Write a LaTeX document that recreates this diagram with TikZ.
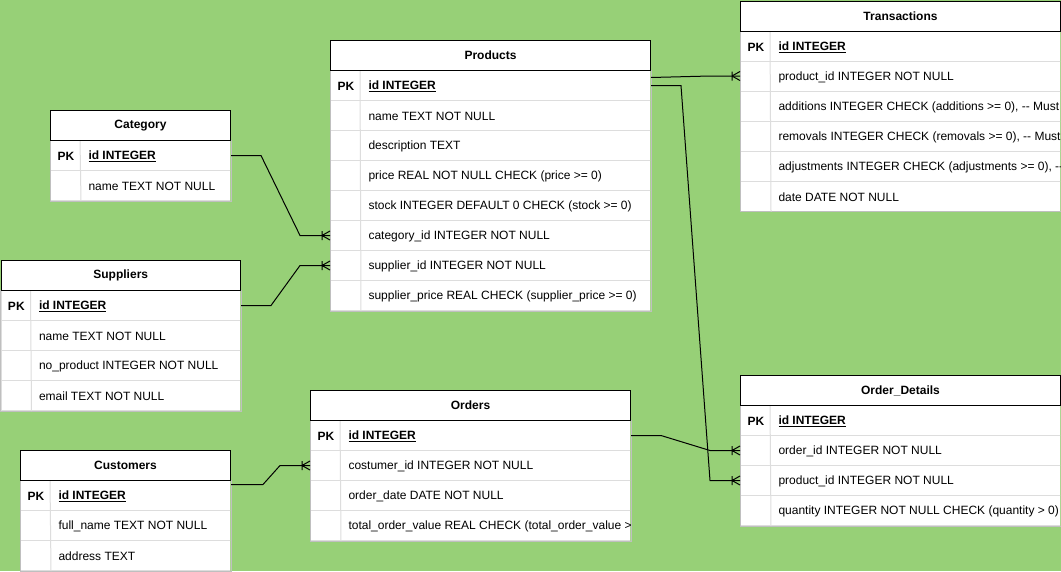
\documentclass[12pt,tikz,border=0pt]{standalone}
\usepackage{fontspec}
\setmainfont{Liberation Sans}
\usetikzlibrary{calc}

\definecolor{bggreen}{HTML}{97D077}
\definecolor{rowline}{HTML}{DDDDDD}
\definecolor{bodyline}{HTML}{BFBFBF}

\tikzset{
  tbltitle/.style={draw=black, fill=white, anchor=north west, minimum height=30pt, inner sep=0pt, font=\bfseries},
  tblrow/.style={draw=rowline, fill=white, anchor=north west, minimum height=30pt, inner sep=0pt},
  rowtext/.style={anchor=west, inner sep=0pt, yshift=-1pt},
  link/.style={draw=black, line width=1pt},
  crowfoot/.pic={\draw[line width=1pt] (-8,0) -- (0,-4.5) (-8,0) -- (0,4.5) (-8,-4.5) -- (-8,4.5);}
}

% #1 name, #2 left, #3 top, #4 width, #5 title, #6 rows after the id row
\newcommand{\ertable}[6]{%
  \begin{scope}
    \clip (#2,#3) rectangle ++(#4,600);
    \node[tblrow, minimum width=#4pt] (#1-1) at (#2,#3+30) {};
    \node[rowtext, font=\bfseries] at ($(#1-1.west)+(7,0)$) {PK};
    \node[rowtext, font=\bfseries] at ($(#1-1.west)+(38,0)$) {\underline{id INTEGER}};
    \foreach \txt [count=\i from 2] in {#6} {
      \node[tblrow, minimum width=#4pt] (#1-\i) at (#2,#3+30*\i) {};
      \node[rowtext] at ($(#1-\i.west)+(38,0)$) {\txt};
      \coordinate (#1-end) at (#1-\i.south east);
    }
  \end{scope}
  \draw[bodyline] (#1-1.north west) rectangle (#1-end);
  \draw[rowline] ($(#1-1.north west)+(30,0)$) -- ($(#1-end)+(30-#4,0)$);
  \node[tbltitle, minimum width=#4pt] (#1) at (#2,#3) {#5};
}

\begin{document}
\begin{tikzpicture}[x=1pt, y=-1pt, line width=1pt]
  \useasboundingbox (0,0) rectangle (1061,571);
  \fill[bggreen] (0,0) rectangle (1061,571);

  % tables
  \ertable{prod}{330}{40}{320}{Products}{name TEXT NOT NULL, description TEXT,
    price REAL NOT NULL CHECK (price >= 0), stock INTEGER DEFAULT 0 CHECK (stock >= 0),
    category\_id INTEGER NOT NULL, supplier\_id INTEGER NOT NULL,
    supplier\_price REAL CHECK (supplier\_price >= 0)}
  \ertable{cat}{50}{110}{180}{Category}{name TEXT NOT NULL}
  \ertable{sup}{0.5}{260}{239.5}{Suppliers}{name TEXT NOT NULL,
    no\_product INTEGER NOT NULL, email TEXT NOT NULL}
  \ertable{cust}{20}{450}{210}{Customers}{full\_name TEXT NOT NULL, address TEXT}
  \ertable{ord}{310}{390}{320}{Orders}{costumer\_id INTEGER NOT NULL,
    order\_date DATE NOT NULL, total\_order\_value REAL CHECK (total\_order\_value >}
  \ertable{tr}{740}{0.5}{320}{Transactions}{product\_id INTEGER NOT NULL,
    {additions INTEGER CHECK (additions >= 0), -{}- Must},
    {removals INTEGER CHECK (removals >= 0), -{}- Must},
    {adjustments INTEGER CHECK (adjustments >= 0), -{}-},
    date DATE NOT NULL}
  \ertable{od}{740}{375}{320}{Order\_Details}{order\_id INTEGER NOT NULL,
    product\_id INTEGER NOT NULL, quantity INTEGER NOT NULL CHECK (quantity > 0)}

  % relations
  \draw[link] (cat-1.east) -- ++(30,0) -- ($(prod-6.west)+(-30,0)$) -- (prod-6.west);
  \draw[link] (sup-1.east) -- ++(30,0) -- ($(prod-7.west)+(-30,0)$) -- (prod-7.west);
  \draw[link] ($(prod-1.east)+(0,-8)$) -- ($(tr-2.west)+(-30,0)$) -- (tr-2.west);
  \draw[link] (prod-1.east) -- ++(30,0) -- ($(od-3.west)+(-30,0)$) -- (od-3.west);
  \draw[link] (ord-1.east) -- ++(30,0) -- ($(od-2.west)+(-30,0)$) -- (od-2.west);
  \draw[link] ($(cust-1.east)+(0,-11)$) -- ++(32,0) -- ($(ord-2.west)+(-30,0)$) -- (ord-2.west);
  \foreach \n in {prod-6,prod-7,tr-2,od-2,od-3,ord-2}
    \pic at (\n.west) {crowfoot};
\end{tikzpicture}
\end{document}
